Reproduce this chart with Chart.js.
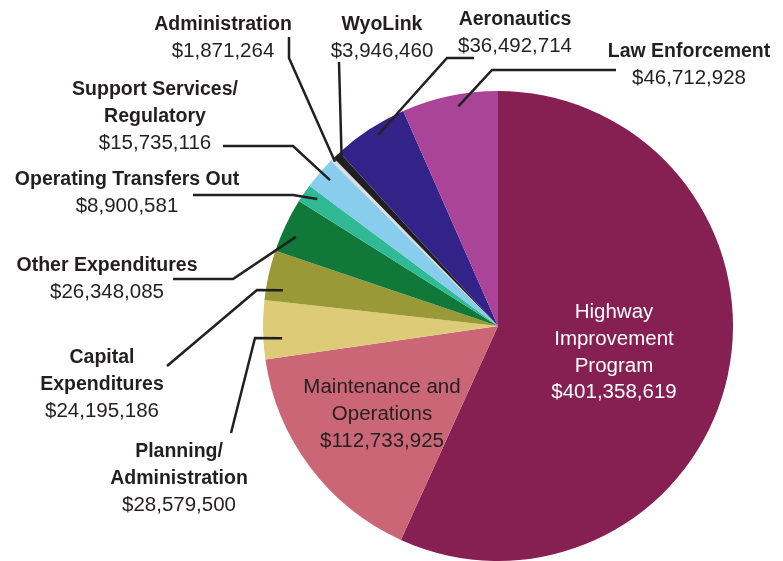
<!DOCTYPE html>
<html>
<head>
<meta charset="utf-8">
<script src="https://cdn.jsdelivr.net/npm/chart.js@4.4.1/dist/chart.umd.min.js"></script>
<style>
  html, body { margin: 0; padding: 0; background: #fff; }
  #wrap { width: 783px; height: 561px; position: relative; }
</style>
</head>
<body>
<div id="wrap"><canvas id="budgetChart"></canvas></div>
<script>
'use strict';

// Data (clockwise from 12 o'clock)
var categories = [
  'Highway Improvement Program', 'Maintenance and Operations', 'Planning/Administration',
  'Capital Expenditures', 'Other Expenditures', 'Operating Transfers Out',
  'Support Services/Regulatory', 'Administration', 'WyoLink', 'Aeronautics', 'Law Enforcement'
];
var amounts = [401358619, 112733925, 28579500, 24195186, 26348085, 8900581, 15735116, 1871264, 3946460, 36492714, 46712928];
var sliceColors = ['#861F52', '#CB6677', '#DDCB77', '#9A9938', '#107838', '#30B995', '#88CCEE', '#DCDDDE', '#231F20', '#332288', '#A94499'];

// Label text lines (name lines, then value is formatted from amounts)
var nameLines = [
  ['Highway', 'Improvement', 'Program'],
  ['Maintenance and', 'Operations'],
  ['Planning/', 'Administration'],
  ['Capital', 'Expenditures'],
  ['Other Expenditures'],
  ['Operating Transfers Out'],
  ['Support Services/', 'Regulatory'],
  ['Administration'],
  ['WyoLink'],
  ['Aeronautics'],
  ['Law Enforcement']
];

// Layout: label centre x, first baseline y, inside flag, leader elbow points,
// leader end as (fraction of slice angle, fraction of radius)
var labelLayout = [
  { x: 614, y: 318, inside: true, color: '#ffffff' },
  { x: 382, y: 393, inside: true, color: '#231F20' },
  { x: 179, y: 457, pts: [[231, 433], [255, 338]], at: [0.34, 0.92] },
  { x: 102, y: 363, pts: [[167, 366], [257, 290]], at: [0.25, 0.928] },
  { x: 107, y: 271, pts: [[173, 279], [233, 279]], at: [0.38, 0.94] },
  { x: 127, y: 185, pts: [[193, 195], [293, 195]], at: [0.66, 0.94] },
  { x: 155, y: 95, pts: [[223, 146], [293, 146]], at: [0.54, 0.947] },
  { x: 223, y: 30, pts: [[289, 37], [289, 58]], at: [0.6, 0.985] },
  { x: 382, y: 30, pts: [[339, 62]], at: [0.8, 0.98] },
  { x: 515, y: 25, pts: [[474, 58], [447, 58]], at: [0.55, 0.96] },
  { x: 689, y: 57, pts: [[616, 70], [492, 70]], at: [0.57, 0.95] }
];

var LINE_H = 26.8;
var TEXT_DARK = '#231F20';

function money(v) {
  return '$' + v.toLocaleString('en-US');
}

var labelPlugin = {
  id: 'budgetLabels',
  afterDraw: function(chart) {
    var ctx = chart.ctx;
    var arcs = chart.getDatasetMeta(0).data;
    ctx.save();

    // leader lines
    ctx.strokeStyle = TEXT_DARK;
    ctx.lineWidth = 2.5;
    ctx.lineJoin = 'miter';
    labelLayout.forEach(function(lay, i) {
      if (lay.inside) return;
      var arc = arcs[i];
      var a = arc.startAngle + (arc.endAngle - arc.startAngle) * lay.at[0];
      var r = arc.outerRadius * lay.at[1];
      ctx.beginPath();
      ctx.moveTo(lay.pts[0][0], lay.pts[0][1]);
      for (var k = 1; k < lay.pts.length; k++) ctx.lineTo(lay.pts[k][0], lay.pts[k][1]);
      ctx.lineTo(arc.x + r * Math.cos(a), arc.y + r * Math.sin(a));
      ctx.stroke();
    });

    // text
    ctx.textAlign = 'center';
    ctx.textBaseline = 'alphabetic';
    labelLayout.forEach(function(lay, i) {
      var lines = nameLines[i];
      var y = lay.y;
      ctx.fillStyle = lay.color || TEXT_DARK;
      ctx.font = (lay.inside ? '' : 'bold ') + (lay.inside ? '20.5px' : '19.5px') + ' "Liberation Sans", Arial, sans-serif';
      lines.forEach(function(t) {
        ctx.fillText(t, lay.x, y);
        y += LINE_H;
      });
      ctx.font = '20.5px "Liberation Sans", Arial, sans-serif';
      ctx.fillText(money(amounts[i]), lay.x, y);
    });
    ctx.restore();
  }
};

var budgetChart = new Chart(document.getElementById('budgetChart'), {
  type: 'pie',
  data: {
    labels: categories,
    datasets: [{
      data: amounts,
      backgroundColor: sliceColors,
      borderWidth: 0
    }]
  },
  options: {
    responsive: true,
    maintainAspectRatio: false,
    animation: false,
    layout: { padding: { left: 263, right: 50, top: 91, bottom: 0 } },
    plugins: {
      legend: { display: false },
      tooltip: { enabled: false }
    }
  },
  plugins: [labelPlugin]
});
</script>
</body>
</html>
